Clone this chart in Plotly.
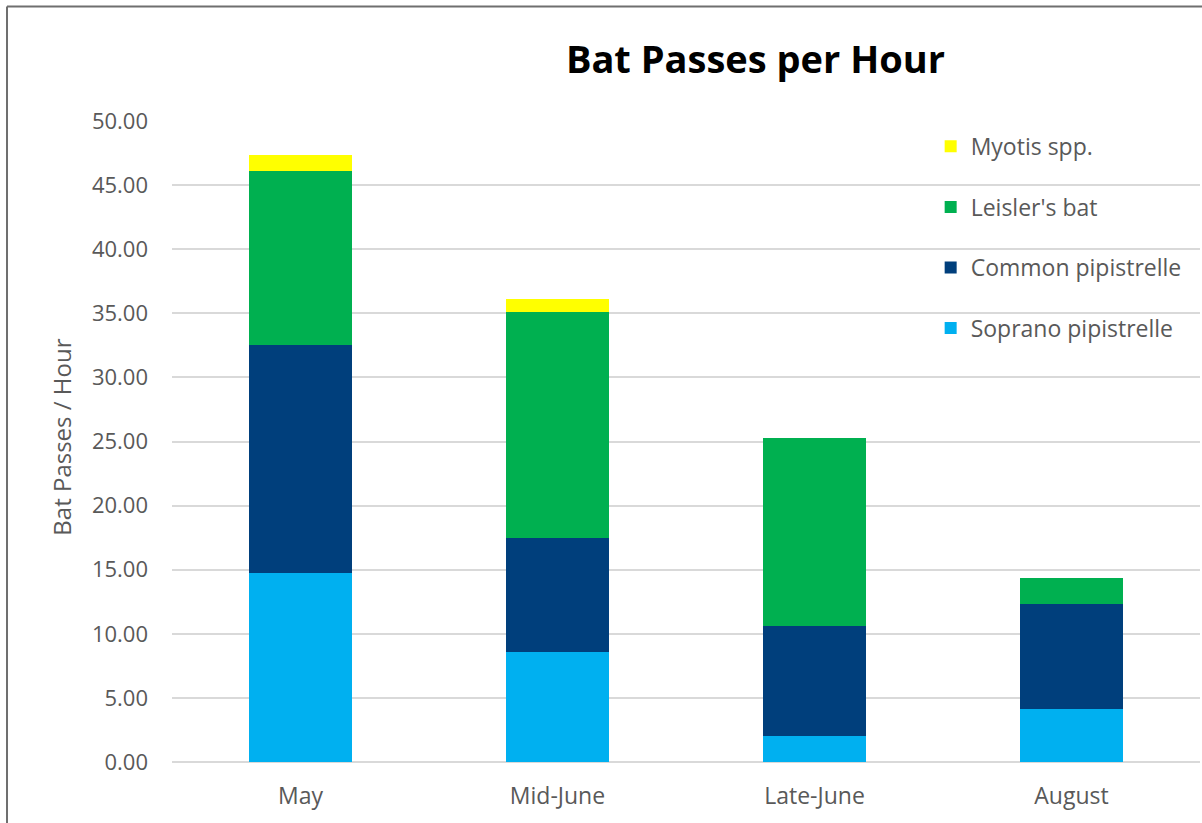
import plotly.graph_objects as go

categories = ["May", "Mid-June", "Late-June", "August"]
soprano = [14.75, 8.58, 2.03, 4.13]
common = [17.78, 8.89, 8.57, 8.19]
leisler = [13.57, 17.63, 14.67, 2.03]
myotis = [1.25, 1.00, 0.0, 0.0]
y_ticks = [0, 5, 10, 15, 20, 25, 30, 35, 40, 45, 50]

series = [
    ("Soprano pipistrelle", soprano, "#00B0F0"),
    ("Common pipistrelle", common, "#003F7C"),
    ("Leisler's bat", leisler, "#00B050"),
    ("Myotis spp.", myotis, "#FFFF00"),
]

fig = go.Figure()
for i, (name, vals, col) in enumerate(series):
    fig.add_trace(go.Bar(
        x=categories, y=vals, name=name, marker_color=col,
        marker_line_width=0, legendgroup=f"g{i}", legendrank=10 - i,
    ))

FONT = "Open Sans, Liberation Sans, sans-serif"
fig.update_layout(
    barmode="stack",
    bargap=0.6,
    width=1202, height=823,
    margin=dict(l=172, r=2, t=121, b=61),
    paper_bgcolor="white", plot_bgcolor="white",
    font=dict(family=FONT, color="#595959", size=22),
    title=dict(text="<b>Bat Passes per Hour</b>", x=0.6285, xanchor="center",
               y=0.927, yanchor="middle",
               font=dict(family=FONT, size=38, color="black")),
    showlegend=True,
    legend=dict(x=0.738, y=0.994, xanchor="left", yanchor="top",
                traceorder="grouped", tracegroupgap=27.7,
                bgcolor="rgba(0,0,0,0)", font=dict(size=23, color="#595959"),
                itemwidth=30),
    xaxis=dict(showgrid=False, showline=False, ticks="", ticklabelstandoff=18,
               tickfont=dict(size=23, color="#595959")),
    yaxis=dict(range=[0, 50], tickvals=y_ticks, tickformat=".2f",
               showgrid=True, gridcolor="#D9D9D9", gridwidth=2,
               zeroline=True, zerolinecolor="#D9D9D9", zerolinewidth=2,
               ticks="", ticklabelstandoff=23,
               tickfont=dict(size=22, color="#595959")),
)

fig.add_annotation(text="Bat Passes / Hour", xref="paper", yref="paper",
                   x=-0.107, y=0.506, textangle=-90, showarrow=False,
                   xanchor="center", yanchor="middle",
                   font=dict(size=24, color="#595959", family=FONT))

# outer chart border (top and left visible)
fig.add_shape(type="line", xref="paper", yref="paper",
              x0=-0.1605, x1=-0.1605, y0=-0.2, y1=1.1786,
              line=dict(color="#6F6F6F", width=2))
fig.add_shape(type="line", xref="paper", yref="paper",
              x0=-0.1605, x1=1.1, y0=1.1786, y1=1.1786,
              line=dict(color="#6F6F6F", width=2))

fig.write_html("out.html", config={"displayModeBar": False},
               post_script="document.body.style.margin='0';")
